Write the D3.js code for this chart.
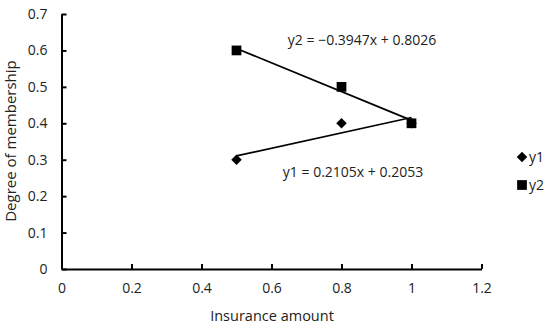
<!DOCTYPE html>
<html><head><meta charset="utf-8">
<script src="https://cdn.jsdelivr.net/npm/d3@7"></script>
<style>body{margin:0;background:#fff}svg{display:block}text{font-family:"Open Sans","Noto Sans",sans-serif;fill:#222}</style>
</head><body>
<script>
const xValues = [0.5, 0.8, 1.0];
const y1Values = [0.3, 0.4, 0.4];
const y2Values = [0.6, 0.5, 0.4];
const seriesNames = ["y1", "y2"];
const slopes = [0.2105, -0.3947];
const intercepts = [0.2053, 0.8026];
const equations = ["y1 = 0.2105x + 0.2053", "y2 = \u22120.3947x + 0.8026"];
const xTicks = [0, 0.2, 0.4, 0.6, 0.8, 1, 1.2];
const yTicks = [0, 0.1, 0.2, 0.3, 0.4, 0.5, 0.6, 0.7];

const W = 550, H = 328;
const svg = d3.select("body").append("svg").attr("width", W).attr("height", H);
const x = d3.scaleLinear().domain([0, 1.2]).range([61.5, 481.5]);
const y = d3.scaleLinear().domain([0, 0.7]).range([269, 14]);

const xAxis = svg.append("g").attr("transform", `translate(0,${y(0)})`)
  .call(d3.axisBottom(x).tickValues(xTicks).tickFormat(d => String(d)).tickSizeInner(-5).tickSizeOuter(0).tickPadding(14));
const yAxis = svg.append("g").attr("transform", `translate(${x(0)},0)`)
  .call(d3.axisLeft(y).tickValues(yTicks).tickFormat(d => String(d)).tickSizeInner(-5).tickSizeOuter(0).tickPadding(14));
[xAxis, yAxis].forEach(g => {
  g.selectAll("path,line").attr("stroke", "#000").attr("stroke-width", 2);
  g.selectAll("text").style("font-size", "14px").attr("fill", "#222");
});

// trendlines
[0, 1].forEach(i => {
  const x0 = d3.min(xValues), x1 = d3.max(xValues);
  svg.append("line")
    .attr("x1", x(x0)).attr("y1", y(slopes[i] * x0 + intercepts[i]))
    .attr("x2", x(x1)).attr("y2", y(slopes[i] * x1 + intercepts[i]))
    .attr("stroke", "#000").attr("stroke-width", 1.7);
});

const diamondPath = d3.symbol().type(d3.symbolSquare).size(55)();
const square = d3.symbol().type(d3.symbolSquare).size(95)();

svg.append("g").selectAll("path").data(xValues).join("path")
  .attr("d", diamondPath)
  .attr("transform", (d, i) => `translate(${x(d)},${y(y1Values[i])}) rotate(45)`)
  .attr("fill", "#000");
svg.append("g").selectAll("path").data(xValues).join("path")
  .attr("d", square)
  .attr("transform", (d, i) => `translate(${x(d)},${y(y2Values[i])})`)
  .attr("fill", "#000");

// equations
svg.append("text").attr("x", 353).attr("y", 177).attr("text-anchor", "middle").style("font-size", "14px").text(equations[0]);
svg.append("text").attr("x", 362).attr("y", 45).attr("text-anchor", "middle").style("font-size", "14px").text(equations[1]);

// legend
svg.append("path").attr("d", diamondPath)
  .attr("transform", "translate(522,157) rotate(45)").attr("fill", "#000");
svg.append("text").attr("x", 529).attr("y", 162).style("font-size", "14px").text(seriesNames[0]);
svg.append("path").attr("d", square).attr("transform", "translate(522,185)").attr("fill", "#000");
svg.append("text").attr("x", 529).attr("y", 190).style("font-size", "14px").text(seriesNames[1]);

// axis titles
svg.append("text").attr("x", 272).attr("y", 321).attr("text-anchor", "middle").style("font-size", "14.5px").text("Insurance amount");
svg.append("text").attr("transform", "translate(16,141) rotate(-90)").attr("text-anchor", "middle").style("font-size", "15px").text("Degree of membership");
</script>
</body></html>
